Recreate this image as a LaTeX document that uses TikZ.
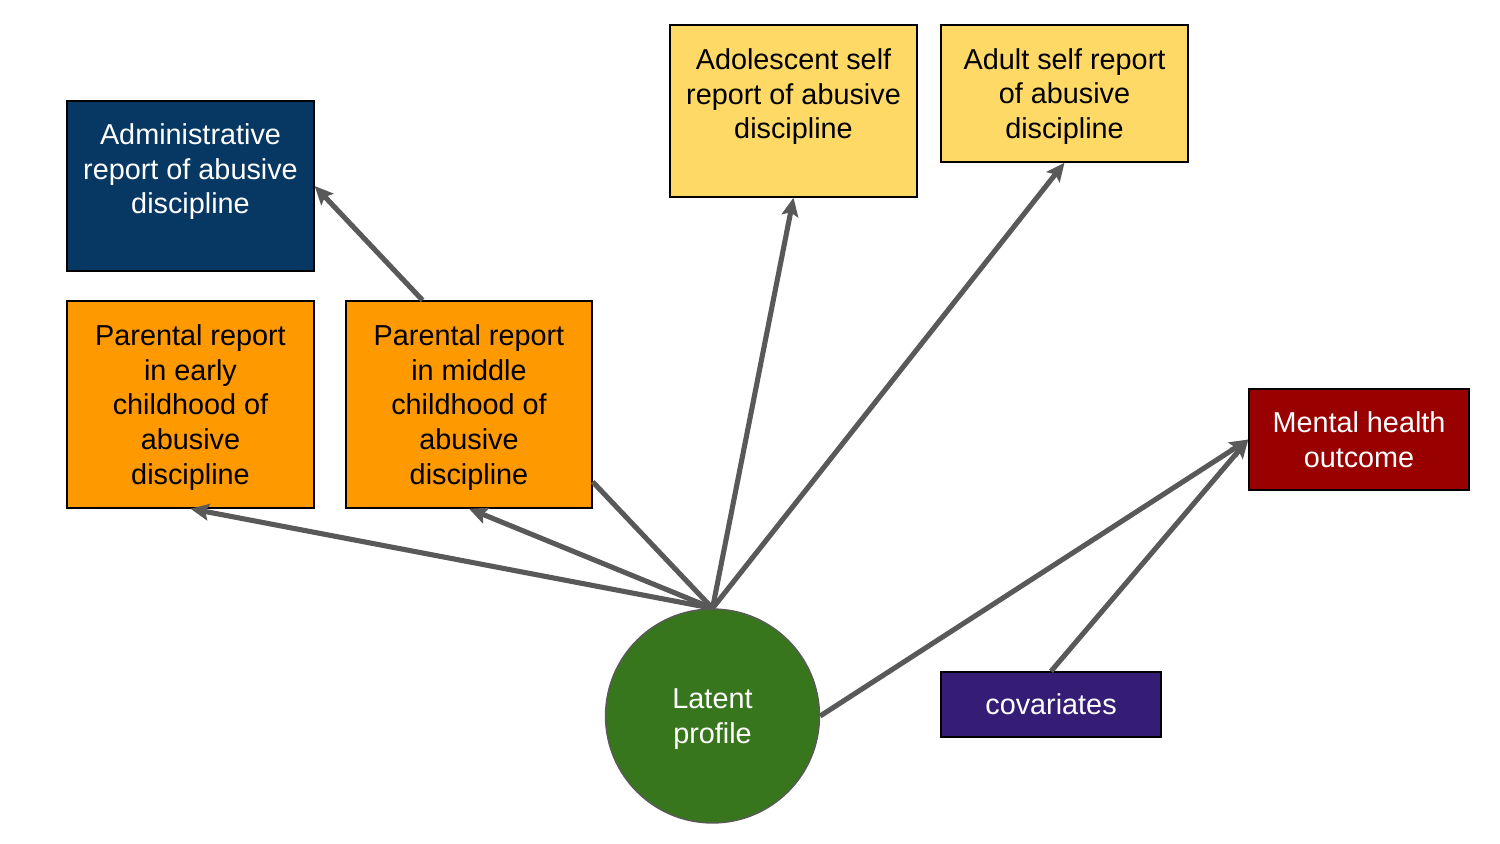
\documentclass[tikz,border=0pt]{standalone}
\usepackage{fontspec}
\setmainfont{Liberation Sans}
\usepackage{tikz}
\usetikzlibrary{arrows.meta}
\tikzstyle{arrow} = [draw, -{Stealth[length=10.5pt,width=9.5pt,inset=2pt]}]
\definecolor{admblue}{HTML}{073763}
\definecolor{parorange}{HTML}{FF9900}
\definecolor{selfyellow}{HTML}{FFD966}
\definecolor{outred}{HTML}{990000}
\definecolor{covpurple}{HTML}{351C75}
\definecolor{latgreen}{HTML}{38761D}
\definecolor{linkgray}{HTML}{595959}

\begin{document}
\begin{tikzpicture}[
      x=0.02cm, y=-0.02cm,
      box/.style={draw=black, line width=0.8pt, align=center, inner sep=2pt, text depth=0pt,
        font=\fontsize{16.4}{19.8}\selectfont},
      link/.style={arrow, color=linkgray, line width=2.9pt},
      plainlink/.style={draw, color=linkgray, line width=2.9pt}
    ]
      \useasboundingbox (0,0) rectangle (1500,844);
      \node (admin)  [box, fill=admblue, text=white, minimum width=4.94cm, minimum height=3.4cm]
        at (190.5,186) {Administrative\\report of abusive\\discipline\\\strut};
      \node (early)  [box, fill=parorange, minimum width=4.94cm, minimum height=4.14cm]
        at (190.5,404.5) {Parental report\\in early\\childhood of\\abusive\\discipline};
      \node (middle) [box, fill=parorange, minimum width=4.92cm, minimum height=4.14cm]
        at (469,404.5) {Parental report\\in middle\\childhood of\\abusive\\discipline};
      \node (adolescent) [box, fill=selfyellow, minimum width=4.94cm, minimum height=3.44cm]
        at (793.5,111) {Adolescent self\\report of abusive\\discipline\\\strut};
      \node (adult)  [box, fill=selfyellow, minimum width=4.94cm, minimum height=2.74cm]
        at (1064.5,93.5) {Adult self report\\of abusive\\discipline};
      \node (mental) [box, fill=outred, text=white, minimum width=4.4cm, minimum height=2.02cm]
        at (1359,439.5) {Mental health\\outcome};
      \node (covariates) [box, fill=covpurple, text=white, minimum width=4.4cm, minimum height=1.3cm]
        at (1051,704.5) {covariates};
      \node (latent) [circle, draw=linkgray, line width=0.8pt, fill=latgreen, text=white, align=center,
        text depth=0pt, minimum size=4.28cm, font=\fontsize{16.4}{19.8}\selectfont]
        at (712.5,716) {Latent\\profile};
      \draw [link] (latent.north) -- (early.south);
      \draw [link] (latent.north) -- (middle.south);
      \draw [plainlink] (middle.-32) -- (latent.north);
      \draw [link] (latent.north) -- (adolescent.south);
      \draw [link] (latent.north) -- (adult.south);
      \draw [link] (middle.114) -- (admin.east);
      \draw [link] (latent.east) -- (mental.west);
      \draw [link] (covariates.north) -- (mental.west);
    \end{tikzpicture}
\end{document}
